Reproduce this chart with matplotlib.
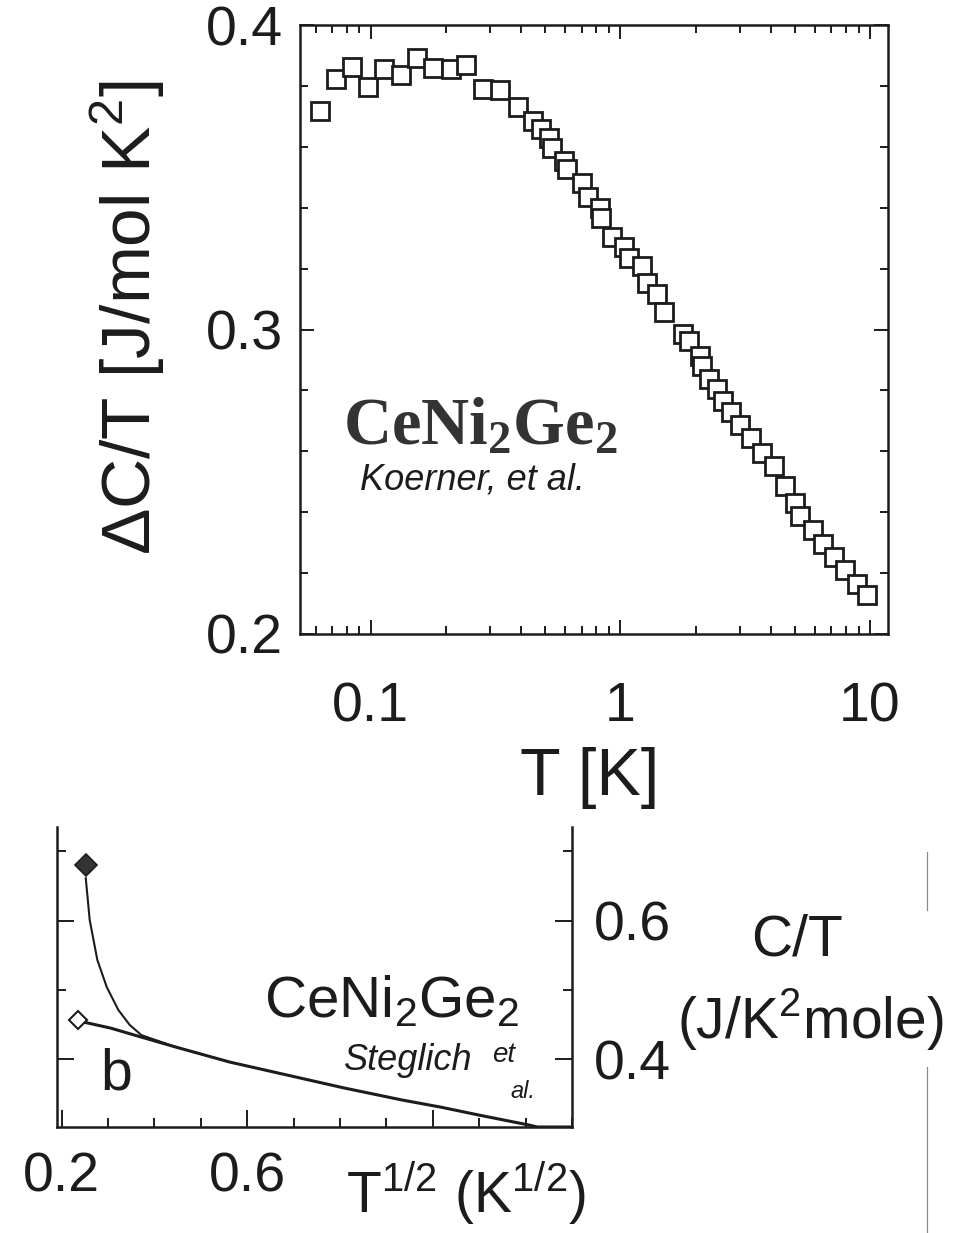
"""Two-panel specific heat plot for CeNi2Ge2: log-T data on top, C/T vs sqrt(T) below."""

import matplotlib

matplotlib.use("Agg")
import matplotlib.pyplot as plt
from matplotlib.lines import Line2D
from matplotlib.ticker import LogLocator, NullFormatter, MultipleLocator

plt.rcParams["font.family"] = ["Liberation Sans", "DejaVu Sans"]
plt.rcParams["mathtext.fontset"] = "custom"
plt.rcParams["mathtext.rm"] = "Liberation Serif"
plt.rcParams["mathtext.bf"] = "Liberation Serif:bold"
plt.rcParams["mathtext.sf"] = "Liberation Sans"

INK = "#1c1c1c"

# upper panel: Delta C / T against T (log axis)
temp_K = [0.0626, 0.0723, 0.0837, 0.0975, 0.113, 0.132, 0.153, 0.178, 0.210, 0.241,
          0.281, 0.329, 0.387, 0.446, 0.481, 0.519, 0.530, 0.593, 0.611, 0.704,
          0.740, 0.828, 0.838, 0.922, 1.03, 1.08, 1.22, 1.28, 1.40, 1.49,
          1.78, 1.89, 2.08, 2.12, 2.27, 2.44, 2.57, 2.77, 3.02, 3.32,
          3.69, 4.13, 4.55, 5.01, 5.26, 5.90, 6.48, 7.20, 7.92, 8.87, 9.75]
dC_over_T = [0.3716, 0.3822, 0.3862, 0.3797, 0.3854, 0.3835, 0.3892, 0.3860, 0.3854, 0.3869,
             0.3790, 0.3788, 0.3730, 0.3685, 0.3659, 0.3630, 0.3597, 0.3555, 0.3528, 0.3480,
             0.3434, 0.3398, 0.3366, 0.3304, 0.3271, 0.3236, 0.3207, 0.3154, 0.3115, 0.3059,
             0.2985, 0.2962, 0.2913, 0.2880, 0.2838, 0.2806, 0.2766, 0.2730, 0.2685, 0.2643,
             0.2594, 0.2552, 0.2486, 0.2431, 0.2388, 0.2343, 0.2294, 0.2252, 0.2210, 0.2164, 0.2129]

# lower panel: C/T against T^(1/2)
sqrtT_upturn = [0.252, 0.2605, 0.277, 0.2973, 0.3224, 0.347, 0.372, 0.4465]
CT_upturn = [0.661, 0.6006, 0.5429, 0.5039, 0.4707, 0.4491, 0.4346, 0.4173]
sqrtT_base = [0.2476, 0.306, 0.372, 0.4465, 0.5624, 0.6865, 0.8097, 0.935, 1.017,
              1.0995, 1.2076, 1.225, 1.30]
CT_base = [0.4534, 0.4447, 0.4317, 0.4173, 0.3957, 0.3769, 0.3582, 0.3408, 0.3307,
           0.3192, 0.3048, 0.3020, 0.3020]
sqrtT_filled, CT_filled = [0.252], [0.680]
sqrtT_open, CT_open = [0.236], [0.456]

W, H = 965, 1233
fig = plt.figure(figsize=(W / 100, H / 100), dpi=100)


def px_axes(left, top, right, bottom):
    return fig.add_axes([left / W, 1 - bottom / H, (right - left) / W, (bottom - top) / H])


def px_text(x, y, s, **kw):
    kw.setdefault("color", INK)
    return fig.text(x / W, 1 - y / H, s, **kw)


# ---- top panel ----
ax1 = px_axes(300, 25, 888, 634)
ax1.plot(temp_K, dC_over_T, ls="none", marker="s", ms=12.5, mfc="white",
         mec=INK, mew=2.0)
ax1.set_xscale("log")
ax1.set_xlim(0.052, 11.8)
ax1.set_ylim(0.2, 0.4)
ax1.set_xticks([0.1, 1, 10], ["0.1", "1", "10"])
ax1.xaxis.set_minor_locator(LogLocator(base=10, subs=range(2, 10)))
ax1.xaxis.set_minor_formatter(NullFormatter())
ax1.set_yticks([0.2, 0.3, 0.4], ["0.2", "0.3", "0.4"])
ax1.yaxis.set_minor_locator(MultipleLocator(0.02))
ax1.tick_params(which="both", direction="in", top=True, right=True,
                width=1.4, colors=INK, labelsize=40)
ax1.tick_params(which="major", length=10)
ax1.tick_params(which="minor", length=5.5)
ax1.tick_params(axis="x", pad=34)
ax1.tick_params(axis="y", pad=12)
for sp in ax1.spines.values():
    sp.set_linewidth(1.8)
    sp.set_color(INK)

px_text(128, 318, r"ΔC/T [J/mol K$^{\mathsf{2}}$]", fontsize=50,
        rotation=90, ha="center", va="center")
px_text(590, 778, "T [K]", fontsize=48, ha="center", va="center")
px_text(343, 445, r"$\mathbf{CeNi_2Ge_2}$", fontsize=48, ha="left",
        va="baseline", color="#333333")
px_text(360, 490, "Koerner, et al.", fontsize=26, style="italic",
        ha="left", va="baseline")

# ---- bottom panel ----
ax2 = px_axes(57, 827, 572, 1127)
ax2.plot(sqrtT_base, CT_base, color=INK, lw=2.2)
ax2.plot(sqrtT_upturn, CT_upturn, color=INK, lw=1.5)
ax2.plot(sqrtT_filled, CT_filled, ls="none", marker="D", ms=11, mfc="#333333",
         mec=INK, mew=1.2)
ax2.plot(sqrtT_open, CT_open, ls="none", marker="D", ms=9.5, mfc="white",
         mec=INK, mew=1.5)
ax2.set_xlim(0.19, 1.30)
ax2.set_ylim(0.302, 0.735)
ax2.set_xticks([0.2, 0.6, 1.0], ["0.2", "0.6", ""])
ax2.xaxis.set_minor_locator(MultipleLocator(0.1))
ax2.set_yticks([0.4, 0.6], ["0.4", "0.6"])
ax2.yaxis.set_minor_locator(MultipleLocator(0.1))
ax2.yaxis.tick_right()
ax2.tick_params(which="both", direction="in", left=True, right=True,
                labelleft=False, labelright=True, width=1.4, colors=INK,
                labelsize=40)
ax2.tick_params(which="major", length=12)
ax2.tick_params(which="minor", length=6.5)
ax2.tick_params(axis="x", pad=18)
ax2.tick_params(axis="y", pad=16)
ax2.spines["top"].set_visible(False)
for name in ("left", "right", "bottom"):
    ax2.spines[name].set_linewidth(1.8)
    ax2.spines[name].set_color(INK)

px_text(116, 1074, "b", fontsize=41, ha="center", va="center")
px_text(264, 1017, r"$\mathsf{CeNi_2Ge_2}$", fontsize=42, ha="left",
        va="baseline")
px_text(344, 1070, "Steglich", fontsize=26, style="italic", ha="left",
        va="baseline")
px_text(492, 1062, "et", fontsize=20, style="italic", ha="left", va="baseline")
px_text(510, 1098, "al.", fontsize=17, style="italic", ha="left", va="baseline")
px_text(346, 1213, r"T$^{\mathsf{1/2}}$ (K$^{\mathsf{1/2}}$)", fontsize=41,
        ha="left", va="baseline")
px_text(797, 941, "C/T", fontsize=41, ha="center", va="center")
px_text(810, 1020, r"(J/K$^{\mathsf{2}}$mole)", fontsize=41, ha="center",
        va="center")

# page edge line at the right
for y0, y1 in [(852, 910), (1067, 1233)]:
    fig.add_artist(Line2D([927 / W, 927 / W], [1 - y0 / H, 1 - y1 / H],
                          color="#8a8a8a", lw=0.9))

fig.savefig("out.png", dpi=100)
